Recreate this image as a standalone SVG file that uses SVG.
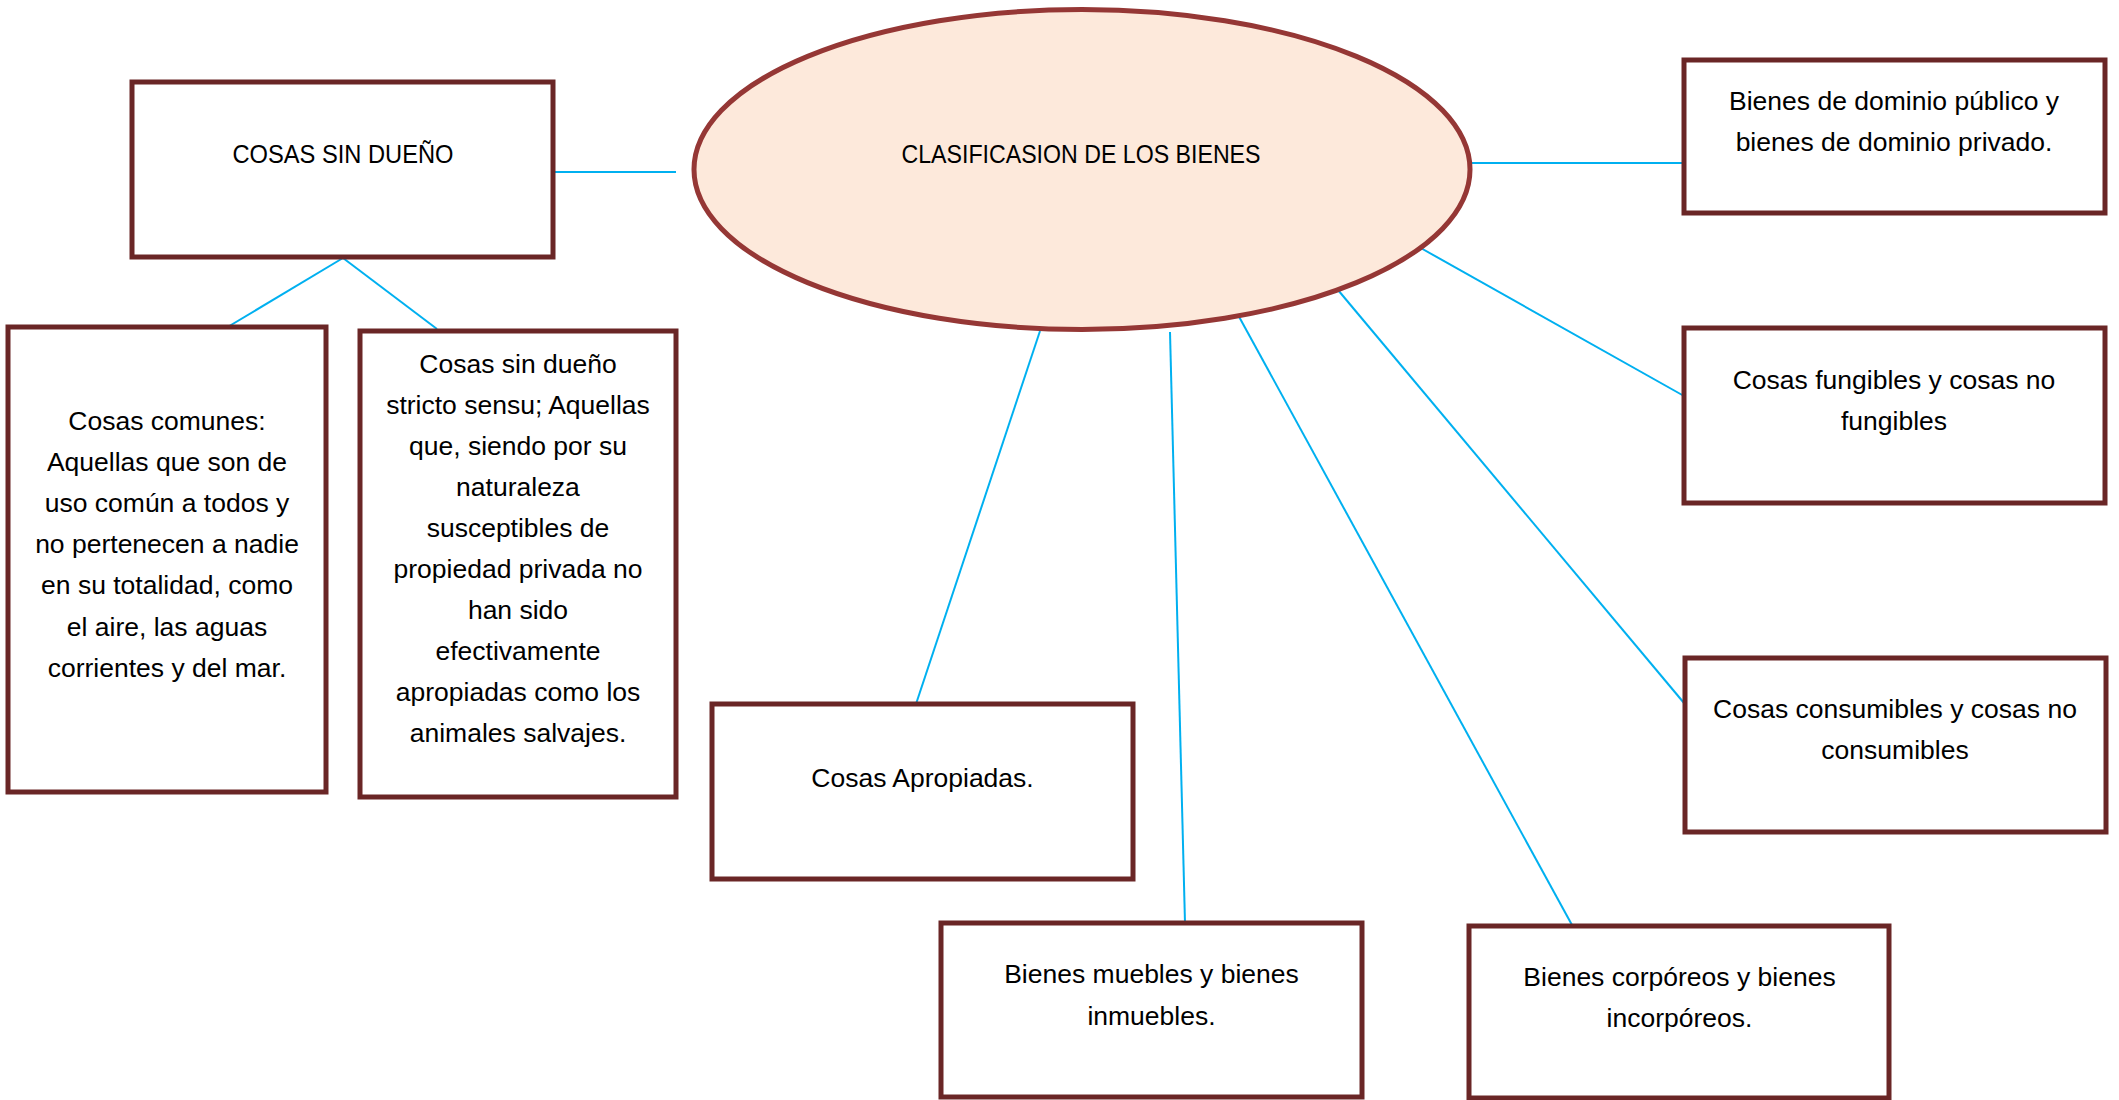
<svg xmlns="http://www.w3.org/2000/svg" width="2119" height="1100" viewBox="0 0 2119 1100">
<style>
.box{fill:#ffffff;stroke:#6a2626;stroke-width:5;}
.oval{fill:#fde9db;stroke:#953735;stroke-width:5;}
.t{font-family:"Liberation Sans",Arial,sans-serif;font-size:26.5px;fill:#000;text-anchor:middle;}
.c{stroke:#00b0f0;stroke-width:2;fill:none;}
</style>
<rect width="2119" height="1100" fill="#ffffff"/>
<g id="connectors">
<line class="c" x1="553" y1="172" x2="676" y2="172"/>
<line class="c" x1="343" y1="258" x2="226" y2="328"/>
<line class="c" x1="343" y1="258" x2="437" y2="329"/>
<line class="c" x1="1470" y1="163" x2="1684" y2="163"/>
<line class="c" x1="1419" y1="247" x2="1684" y2="396"/>
<line class="c" x1="1338" y1="290" x2="1684" y2="703"/>
<line class="c" x1="1237" y1="313" x2="1572" y2="925"/>
<line class="c" x1="1170" y1="332" x2="1185" y2="923"/>
<line class="c" x1="1040" y1="331" x2="916" y2="704"/>
</g>
<g id="center">
<ellipse class="oval" cx="1082" cy="169.5" rx="388" ry="160"/>
<text class="t" x="1081" y="163" textLength="359" lengthAdjust="spacingAndGlyphs">CLASIFICASION DE LOS BIENES</text>
</g>
<g id="cosas-sin-dueno">
<rect class="box" x="132" y="82" width="421" height="175"/>
<text class="t" x="343" y="163" textLength="221" lengthAdjust="spacingAndGlyphs">COSAS SIN DUEÑO</text>
</g>
<g id="cosas-comunes">
<rect class="box" x="8" y="327" width="318" height="465"/>
<text class="t" x="167" y="430">Cosas comunes:</text>
<text class="t" x="167" y="471">Aquellas que son de</text>
<text class="t" x="167" y="512">uso común a todos y</text>
<text class="t" x="167" y="553">no pertenecen a nadie</text>
<text class="t" x="167" y="594">en su totalidad, como</text>
<text class="t" x="167" y="636">el aire, las aguas</text>
<text class="t" x="167" y="677">corrientes y del mar.</text>
</g>
<g id="stricto-sensu">
<rect class="box" x="360" y="331" width="316" height="466"/>
<text class="t" x="518" y="373">Cosas sin dueño</text>
<text class="t" x="518" y="414">stricto sensu; Aquellas</text>
<text class="t" x="518" y="455">que, siendo por su</text>
<text class="t" x="518" y="496">naturaleza</text>
<text class="t" x="518" y="537">susceptibles de</text>
<text class="t" x="518" y="578">propiedad privada no</text>
<text class="t" x="518" y="619">han sido</text>
<text class="t" x="518" y="660">efectivamente</text>
<text class="t" x="518" y="701">apropiadas como los</text>
<text class="t" x="518" y="742">animales salvajes.</text>
</g>
<g id="apropiadas">
<rect class="box" x="712" y="704" width="421" height="175"/>
<text class="t" x="922.5" y="787">Cosas Apropiadas.</text>
</g>
<g id="muebles">
<rect class="box" x="941" y="923" width="421" height="174"/>
<text class="t" x="1151.5" y="983">Bienes muebles y bienes</text>
<text class="t" x="1151.5" y="1025">inmuebles.</text>
</g>
<g id="corporeos">
<rect class="box" x="1469" y="926" width="420" height="172"/>
<text class="t" x="1679.5" y="986">Bienes corpóreos y bienes</text>
<text class="t" x="1679.5" y="1027">incorpóreos.</text>
</g>
<g id="dominio">
<rect class="box" x="1684" y="60" width="421" height="153"/>
<text class="t" x="1894" y="110">Bienes de dominio público y</text>
<text class="t" x="1894" y="151">bienes de dominio privado.</text>
</g>
<g id="fungibles">
<rect class="box" x="1684" y="328" width="421" height="175"/>
<text class="t" x="1894" y="389">Cosas fungibles y cosas no</text>
<text class="t" x="1894" y="430">fungibles</text>
</g>
<g id="consumibles">
<rect class="box" x="1685" y="658" width="421" height="174"/>
<text class="t" x="1895" y="718">Cosas consumibles y cosas no</text>
<text class="t" x="1895" y="759">consumibles</text>
</g>
</svg>
